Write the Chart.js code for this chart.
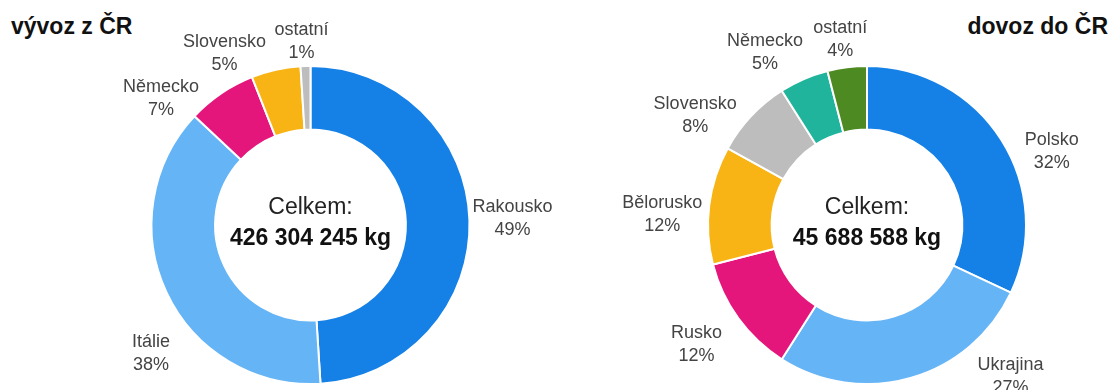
<!DOCTYPE html>
<html lang="cs">
<head>
<meta charset="utf-8">
<title>vývoz a dovoz</title>
<script src="https://cdn.jsdelivr.net/npm/chart.js@4"></script>
<style>
  html, body { margin: 0; padding: 0; background: #fff; overflow: hidden; }
  body { width: 1113px; height: 390px; position: relative; font-family: "Liberation Sans", Arial, sans-serif; }
  canvas { position: absolute; top: 0; }
  #exportChart { left: 0; }
  #importChart { left: 556px; }
  .title { position: absolute; top: 13px; font-weight: bold; font-size: 23px; color: #111; }
  #t1 { left: 11px; }
  #t2 { right: 5px; }
</style>
</head>
<body>
<div class="title" id="t1">vývoz z ČR</div>
<div class="title" id="t2">dovoz do ČR</div>
<canvas id="exportChart" width="556" height="390"></canvas>
<canvas id="importChart" width="557" height="390"></canvas>
<script>
'use strict';
// vývoz (export) shares in %
let exportNames = ['Rakousko', 'Itálie', 'Německo', 'Slovensko', 'ostatní'];
let exportShares = [49, 38, 7, 5, 1];
let exportTotal = '426 304 245 kg';

// dovoz (import) shares in %
let importNames = ['Polsko', 'Ukrajina', 'Rusko', 'Bělorusko', 'Slovensko', 'Německo', 'ostatní'];
let importShares = [32, 27, 12, 12, 8, 5, 4];
let importTotal = '45 688 588 kg';

let exportColors = ['#1580e6', '#64b4f6', '#e5167b', '#f8b415', '#bdbdbd'];
let importColors = ['#1580e6', '#64b4f6', '#e5167b', '#f8b415', '#bdbdbd', '#21b49c', '#4e8a22'];

// label placement: [angle shift in degrees, distance past the outer edge]
let exportNudges = [[0, 43], [-13.7, 46], [-15.5, 37], [-14, 33], [-1, 25]];
let importNudges = [[10.6, 40], [-27.2, 50], [1, 49], [-4.4, 46], [-10.6, 45], [-7.3, 41], [-1, 28]];

const FONT = '"Liberation Sans", Arial, sans-serif';

function ringLabels(nudges, total) {
    return {
        id: 'ringLabels',
        afterDatasetsDraw(chart) {
            let ctx = chart.ctx;
            let meta = chart.getDatasetMeta(0);
            let values = chart.data.datasets[0].data;
            ctx.save();
            ctx.textAlign = 'center';
            ctx.textBaseline = 'middle';
            ctx.font = '18px ' + FONT;
            ctx.fillStyle = '#444';
            meta.data.forEach((arc, i) => {
                let p = arc.getProps(['x', 'y', 'startAngle', 'endAngle', 'outerRadius'], true);
                let a = (p.startAngle + p.endAngle) / 2 + nudges[i][0] * Math.PI / 180;
                let r = p.outerRadius + nudges[i][1];
                let lx = p.x + Math.cos(a) * r;
                let ly = p.y + Math.sin(a) * r;
                ctx.fillText(chart.data.labels[i], lx, ly - 11.5);
                ctx.fillText(values[i] + '%', lx, ly + 11.5);
            });
            let c = meta.data[0];
            ctx.fillStyle = '#222';
            ctx.font = '23px ' + FONT;
            ctx.fillText('Celkem:', c.x, c.y - 17);
            ctx.fillStyle = '#111';
            ctx.font = 'bold 23px ' + FONT;
            ctx.fillText(total, c.x, c.y + 14);
            ctx.restore();
        }
    };
}

function makeDoughnut(id, names, shares, colors, nudges, total) {
    let ctx = document.getElementById(id).getContext('2d');
    return new Chart(ctx, {
        type: 'doughnut',
        data: {
            labels: names,
            datasets: [{
                data: shares,
                backgroundColor: colors,
                borderColor: '#ffffff',
                borderWidth: 2
            }]
        },
        options: {
            responsive: false,
            animation: false,
            cutout: '60%',
            layout: { padding: { top: 65, bottom: 5, left: 65, right: 0 } },
            plugins: {
                legend: { display: false },
                tooltip: { enabled: false }
            }
        },
        plugins: [ringLabels(nudges, total)]
    });
}

makeDoughnut('exportChart', exportNames, exportShares, exportColors, exportNudges, exportTotal);
makeDoughnut('importChart', importNames, importShares, importColors, importNudges, importTotal);
</script>
</body>
</html>
